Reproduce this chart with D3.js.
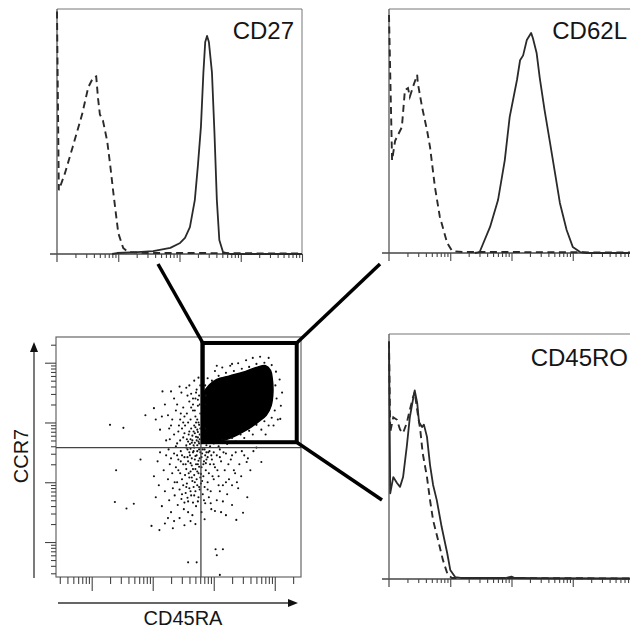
<!DOCTYPE html>
<html><head><meta charset="utf-8">
<script src="https://cdn.jsdelivr.net/npm/d3@7"></script>
<style>html,body{margin:0;padding:0;background:#fff}svg{display:block}</style>
</head><body><svg id="c" width="630" height="629"></svg>
<script>
// ---------- DATA (intensities as log10 exponents, histogram counts as % of max) ----------
const histLabels = ["CD27", "CD62L", "CD45RO"];
const axisLabelX = "CD45RA";
const axisLabelY = "CCR7";

const cd27Stained = [[1.9,0],[1.98,0.4],[2.31,0.8],[2.57,1.2],[2.85,2.5],[3.01,4.5],[3.09,6.6],[3.17,11],[3.25,22],[3.30,36],[3.35,52],[3.39,74],[3.42,86.5],[3.45,89],[3.48,86.5],[3.53,74],[3.57,50],[3.61,22],[3.65,5.7],[3.71,0.8],[3.83,0],[5,0]];
const cd27Isotype = [[1.0,99],[1.03,26],[1.13,33],[1.26,44],[1.41,57],[1.51,68],[1.59,72],[1.64,72.5],[1.67,63.5],[1.70,57],[1.75,54.5],[1.82,46],[1.87,36],[1.92,25],[2.0,8.6],[2.08,2.5],[2.16,0.8],[2.5,0.4],[3.3,0.4],[4.0,0.3],[5,0.2]];

const cd62lStained = [[2.4,0],[2.48,0.4],[2.65,10.7],[2.78,21.7],[2.89,38],[2.97,55.7],[3.09,71],[3.14,79],[3.19,81],[3.25,87.3],[3.32,90.2],[3.35,88],[3.41,82],[3.46,72],[3.54,58.6],[3.63,45],[3.71,32.8],[3.79,20.5],[3.90,9.4],[4.0,2.5],[4.12,0.4],[4.23,0],[5,0]];
const cd62lIsotype = [[1.0,97.5],[1.05,38],[1.10,46],[1.21,51.6],[1.26,66.8],[1.31,67.6],[1.34,64],[1.39,68],[1.46,73],[1.47,69.7],[1.54,59.8],[1.62,50.4],[1.67,43.4],[1.75,27],[1.83,14.8],[1.95,4.1],[2.03,0.8],[2.2,0.4],[3.0,0.4],[4.0,0.3],[5,0.2]];

const cd45roStained = [[1.0,96.7],[1.02,35],[1.07,41.6],[1.13,39.2],[1.18,37.6],[1.23,41.6],[1.29,54],[1.34,66],[1.39,73],[1.42,77],[1.46,72],[1.49,64],[1.54,62],[1.57,63],[1.62,58],[1.67,46.5],[1.72,38.4],[1.78,32.2],[1.86,21.2],[1.95,10.6],[2.0,3.7],[2.08,0.8],[2.2,0.4],[2.9,0.4],[3.0,1.0],[3.05,0.4],[3.5,0.3],[5,0.2]];
const cd45roIsotype = [[1.0,97],[1.02,60],[1.07,66],[1.13,65],[1.18,61],[1.23,59.6],[1.29,63.7],[1.34,69],[1.39,74],[1.42,76.3],[1.46,69],[1.51,61],[1.55,51.4],[1.62,41.6],[1.67,32.2],[1.72,24],[1.8,16],[1.88,7.8],[1.96,1.6],[2.03,0.4],[3.0,0.4],[5,0.2]];

// scatter: CD45RA (x) vs CCR7 (y), log10 exponents
const quadrant = {x: 3.79, y: 3.58};
const gate = {x0: 3.82, x1: 5.36, y0: 3.67, y1: 5.33};
const denseCore = [[3.83,4.48],[3.93,4.63],[4.05,4.72],[4.26,4.78],[4.48,4.84],[4.70,4.92],[4.85,4.95],[4.93,4.87],[4.96,4.72],[4.97,4.51],[4.94,4.28],[4.86,4.12],[4.73,4.01],[4.58,3.9],[4.42,3.81],[4.25,3.73],[4.05,3.67],[3.87,3.66],[3.83,3.78],[3.82,4.09],[3.82,4.35]];
const scatterPoints = [
[2.30,3.96],[2.52,3.91],[2.40,3.20],[2.38,2.67],[2.57,2.56],[2.69,2.64],[2.80,3.38],[2.98,2.27],[3.58,1.66],[3.72,1.66],[4.03,1.88],[4.15,1.88],[4.05,1.78],[4.10,1.45],[3.16,4.52],[3.02,4.24],[2.88,4.12],[4.54,3.34],[4.78,3.34],[5.09,4.06],[4.37,2.37],[4.48,2.49],[3.20,2.31],[3.11,2.20],[3.33,2.23],
[3.05,4.05],[3.12,3.88],[3.2,4.3],[3.25,4.12],[3.28,3.72],[3.3,3.95],[3.35,4.4],[3.38,4.2],[3.4,3.65],[3.42,3.85],[3.45,4.05],[3.47,4.5],[3.5,3.75],[3.5,4.25],[3.53,3.95],[3.55,4.58],[3.56,4.15],[3.58,3.68],[3.6,3.85],[3.6,4.35],[3.62,4.05],[3.63,4.48],[3.65,3.78],[3.66,4.2],[3.67,3.62],[3.68,3.95],[3.7,4.4],[3.7,4.1],[3.72,3.7],[3.72,4.55],[3.73,3.88],[3.74,4.28],[3.75,4.0],[3.76,3.65],[3.76,4.45],[3.77,3.8],[3.78,4.15],[3.78,4.62],[3.62,3.72],[3.55,3.62],[3.45,3.7],[3.35,3.8],[3.48,3.9],[3.58,4.0],[3.66,4.3],[3.69,3.82],[3.74,3.75],[3.71,4.0],[3.64,3.66],[3.52,4.1],[3.4,4.3],[3.22,3.7],[3.15,4.1],[3.3,4.52],[3.6,4.62],[3.68,4.7],[3.75,4.75],[3.44,4.6],
[3.02,3.1],[3.05,2.75],[3.08,3.35],[3.1,2.95],[3.12,3.5],[3.15,2.6],[3.18,3.2],[3.2,2.85],[3.22,3.45],[3.25,3.05],[3.27,2.7],[3.28,3.3],[3.3,2.5],[3.32,3.15],[3.33,2.9],[3.35,3.48],[3.36,2.78],[3.38,3.25],[3.4,3.0],[3.41,2.62],[3.42,3.38],[3.44,2.88],[3.45,3.15],[3.46,3.52],[3.47,2.72],[3.48,3.05],[3.5,3.3],[3.5,2.95],[3.51,2.55],[3.52,3.42],[3.53,3.12],[3.54,2.82],[3.55,3.22],[3.56,2.98],[3.57,3.55],[3.58,3.35],[3.58,2.68],[3.6,3.08],[3.6,2.9],[3.61,3.45],[3.62,3.18],[3.63,2.78],[3.64,3.28],[3.65,3.02],[3.65,2.45],[3.66,3.5],[3.67,2.92],[3.68,3.12],[3.69,3.38],[3.7,2.85],[3.7,3.22],[3.71,2.6],[3.72,3.05],[3.72,3.45],[3.73,2.95],[3.74,3.3],[3.75,2.75],[3.75,3.15],[3.76,3.55],[3.77,2.88],[3.77,3.4],[3.78,3.08],[3.79,2.98],[3.8,3.25],[3.8,2.5],[3.81,3.48],[3.82,2.8],[3.83,3.1],[3.84,3.35],[3.85,2.92],[3.86,2.65],[3.87,3.2],[3.88,3.5],[3.9,3.0],[3.92,2.75],[3.94,3.3],[3.96,2.55],[3.98,3.1],[3.55,3.58],[3.48,3.45],[3.62,3.56],[3.68,3.58],[3.42,3.2],[3.36,3.0],[3.58,2.5],[3.44,2.4],[3.62,2.35],[3.52,2.28],[3.7,2.3],[3.85,2.38],[3.35,2.35],[3.25,2.4],
[3.85,3.55],[3.9,3.42],[3.93,3.52],[3.97,3.38],[4.0,3.5],[4.02,3.25],[4.05,3.45],[4.08,3.1],[4.1,3.55],[4.12,3.35],[4.15,2.95],[4.18,3.2],[4.2,3.48],[4.22,2.8],[4.25,3.05],[4.28,3.38],[4.3,2.62],[4.33,3.2],[4.36,3.5],[4.4,2.9],[4.42,3.3],[4.45,3.1],[4.5,3.45],[4.55,2.75],[4.6,3.2],[4.65,3.52],[4.05,2.7],[4.12,2.5],[4.2,2.45],[3.95,2.85],[4.3,2.95],[4.38,3.0],[4.0,3.05],[4.1,2.85],
[3.56,3.72],[3.59,3.8],[3.61,3.64],[3.63,3.9],[3.65,3.7],[3.67,3.85],[3.69,3.66],[3.7,3.92],[3.71,3.76],[3.73,3.62],[3.74,3.84],[3.75,3.68],[3.77,3.72],[3.78,3.9],[3.76,3.96],[3.73,4.05],[3.69,4.2],[3.77,4.3],[3.74,4.38],[3.71,4.5],[3.66,4.4],[3.63,4.25],[3.57,4.45],[3.52,3.82],[3.5,4.0],[3.46,4.15],[3.43,3.95],[3.38,3.6],[3.32,4.05],[3.27,3.9],
[3.6,3.5],[3.64,3.4],[3.67,3.52],[3.7,3.44],[3.73,3.52],[3.75,3.36],[3.78,3.5],[3.8,3.42],[3.82,3.55],[3.83,3.3],[3.86,3.45],[3.88,3.38],[3.91,3.5],[3.76,3.26],[3.71,3.3],[3.66,3.22],[3.62,3.32],[3.57,3.42],[3.54,3.3],[3.59,3.15],[3.64,3.08],[3.69,3.0],[3.73,3.18],[3.79,3.14],[3.81,3.02],[3.76,2.92],[3.68,2.78],[3.62,2.85],[3.55,2.92],[3.48,2.8],[3.52,2.66],[3.57,2.74],[3.66,2.66],[3.74,2.68],[3.84,2.7],[3.9,2.88],[3.46,3.35],[3.4,3.45],[3.3,3.4],[3.26,3.55],
[3.86,4.62],[3.9,4.74],[3.97,4.7],[4.02,4.86],[4.08,4.78],[4.14,4.92],[4.2,4.83],[4.27,4.95],[4.33,4.86],[4.4,4.99],[4.46,4.9],[4.53,5.04],[4.58,4.93],[4.64,5.08],[4.7,4.98],[4.76,5.1],[4.83,5.0],[4.9,5.08],[4.95,4.96],
[5.02,4.85],[5.08,4.72],[5.01,4.62],[5.12,4.5],[5.03,4.4],[5.1,4.28],[5.0,4.2],[5.05,4.05],[4.95,4.08],
[4.9,3.95],[4.83,4.02],[4.78,3.88],[4.7,3.96],[4.64,3.8],[4.58,3.86],[4.5,3.74],[4.44,3.8],[4.36,3.68],[4.3,3.74],[4.22,3.64],[4.14,3.7],[4.08,3.6],[4.0,3.65],[3.94,3.6],[3.88,3.62],
[3.84,3.72],[3.86,3.9],[3.84,4.1],[3.85,4.3],[3.87,4.45],[4.6,3.66],[4.85,3.8],[4.98,3.95],[4.3,4.98],[4.05,4.95],
[3.87,3.32],[3.92,3.15],[3.96,3.45],[4.0,3.3],[4.06,3.2],[4.1,3.42],[4.16,3.5],[4.24,3.3],[4.3,3.45],[4.46,3.52],[4.56,3.4],[4.7,3.58],[4.35,3.15],[4.2,3.0],[4.08,2.95],[3.95,2.65],[4.02,2.52],[4.15,2.68]
];

// ---------- DRAWING ----------
const svg = d3.select("#c");
svg.append("rect").attr("width",630).attr("height",629).attr("fill","#fff");
const P = v => Math.pow(10, v);
const FONT = "'Liberation Sans', Arial, sans-serif";

function logTicks(scale) {
  const all = scale.ticks();
  const major = all.filter(t => Math.abs(Math.log10(t) - Math.round(Math.log10(t))) < 1e-9);
  const minor = all.filter(t => !major.includes(t));
  return {major, minor};
}

function histogram(cfg) {
  const g = svg.append("g");
  const x = d3.scaleLog().domain([P(1), P(5)]).range([cfg.left, cfg.left + 245]);
  const y = d3.scaleLinear().domain([0, 100]).range([cfg.bottom, cfg.top]);
  g.append("line").attr("x1", cfg.left).attr("x2", cfg.left + 245).attr("y1", cfg.top).attr("y2", cfg.top)
    .attr("stroke", "#777").attr("stroke-width", 1);
  g.append("line").attr("x1", cfg.left + 245).attr("x2", cfg.left + 245).attr("y1", cfg.top).attr("y2", cfg.bottom)
    .attr("stroke", "#777").attr("stroke-width", 1);
  const t = logTicks(x);
  const ax1 = g.append("g").attr("transform", `translate(0,${cfg.bottom})`)
    .call(d3.axisBottom(x).tickValues(t.minor).tickSize(4).tickFormat(""));
  const ax2 = g.append("g").attr("transform", `translate(0,${cfg.bottom})`)
    .call(d3.axisBottom(x).tickValues(t.major.filter(v => v > P(1))).tickSize(8).tickFormat(""));
  [ax1, ax2].forEach(a => { a.select(".domain").remove(); a.selectAll("line").attr("stroke", "#444").attr("stroke-width", 1.1); });
  g.append("line").attr("x1", cfg.left - 7).attr("x2", cfg.left + 245).attr("y1", cfg.bottom).attr("y2", cfg.bottom)
    .attr("stroke", "#444").attr("stroke-width", 1.5);
  g.append("line").attr("x1", cfg.left).attr("x2", cfg.left).attr("y1", cfg.top).attr("y2", cfg.bottom + 8)
    .attr("stroke", "#555").attr("stroke-width", 1.3);
  const line = d3.line().x(d => x(P(d[0]))).y(d => y(d[1]));
  g.append("path").attr("d", line(cfg.iso)).attr("fill", "none").attr("stroke", "#2a2a2a")
    .attr("stroke-width", 1.9).attr("stroke-dasharray", "7,4.5");
  g.append("path").attr("d", line(cfg.stain)).attr("fill", "none").attr("stroke", "#2a2a2a")
    .attr("stroke-width", 1.8).attr("stroke-linejoin", "round");
  g.append("text").attr("x", cfg.labelX).attr("y", cfg.labelY).attr("text-anchor", "end")
    .attr("font-family", FONT).attr("font-size", 24).attr("fill", "#151515").text(cfg.label);
}

histogram({left: 57, top: 9, bottom: 254, stain: cd27Stained, iso: cd27Isotype, label: histLabels[0], labelX: 294, labelY: 39});
histogram({left: 389, top: 9, bottom: 253, stain: cd62lStained, iso: cd62lIsotype, label: histLabels[1], labelX: 627, labelY: 39});
histogram({left: 389, top: 334, bottom: 579, stain: cd45roStained, iso: cd45roIsotype, label: histLabels[2], labelX: 628, labelY: 366});

// ---------- scatter ----------
const sx = d3.scaleLog().domain([P(1.415), P(5.43)]).range([56, 301]);
const sy = d3.scaleLog().domain([P(1.415), P(5.43)]).range([577, 337]);
const sg = svg.append("g");
sg.append("rect").attr("x", 56).attr("y", 337).attr("width", 245).attr("height", 240)
  .attr("fill", "none").attr("stroke", "#666").attr("stroke-width", 1.2);

const tx = logTicks(sx), ty = logTicks(sy);
const axes = [
  sg.append("g").attr("transform", "translate(0,577)").call(d3.axisBottom(sx).tickValues(tx.minor).tickSize(7).tickFormat("")),
  sg.append("g").attr("transform", "translate(0,577)").call(d3.axisBottom(sx).tickValues(tx.major).tickSize(14).tickFormat("")),
  sg.append("g").attr("transform", "translate(56,0)").call(d3.axisLeft(sy).tickValues(ty.minor).tickSize(5).tickFormat("")),
  sg.append("g").attr("transform", "translate(56,0)").call(d3.axisLeft(sy).tickValues(ty.major).tickSize(11).tickFormat(""))
];
axes.forEach(a => { a.select(".domain").remove(); a.selectAll("line").attr("stroke", "#444").attr("stroke-width", 1.1); });

sg.append("path")
  .attr("d", d3.line().x(d => sx(P(d[0]))).y(d => sy(P(d[1]))).curve(d3.curveCatmullRomClosed)(denseCore))
  .attr("fill", "#000").attr("stroke", "#000").attr("stroke-width", 1.5);
sg.selectAll("circle.pt").data(scatterPoints).join("circle").attr("class", "pt")
  .attr("cx", d => sx(P(d[0]))).attr("cy", d => sy(P(d[1]))).attr("r", 1.05).attr("fill", "#111");

sg.append("line").attr("x1", sx(P(quadrant.x))).attr("x2", sx(P(quadrant.x))).attr("y1", 337).attr("y2", 577)
  .attr("stroke", "#444").attr("stroke-width", 1.3);
sg.append("line").attr("x1", 56).attr("x2", 301).attr("y1", sy(P(quadrant.y))).attr("y2", sy(P(quadrant.y)))
  .attr("stroke", "#444").attr("stroke-width", 1.3);

const gx0 = sx(P(gate.x0)), gx1 = sx(P(gate.x1)), gy0 = sy(P(gate.y1)), gy1 = sy(P(gate.y0));
sg.append("rect").attr("x", gx0).attr("y", gy0).attr("width", gx1 - gx0).attr("height", gy1 - gy0)
  .attr("fill", "none").attr("stroke", "#000").attr("stroke-width", 4);

const conn = [
  [[gx0, gy0], [158, 264]],
  [[gx1, gy0], [380, 264]],
  [[gx1, gy1], [382, 500]]
];
conn.forEach(c => svg.append("line").attr("x1", c[0][0]).attr("y1", c[0][1]).attr("x2", c[1][0]).attr("y2", c[1][1])
  .attr("stroke", "#000").attr("stroke-width", 3.5));

svg.append("line").attr("x1", 34).attr("x2", 34).attr("y1", 578).attr("y2", 350).attr("stroke", "#333").attr("stroke-width", 1.3);
svg.append("path").attr("d", "M34,342 L30,352 L38,352 Z").attr("fill", "#111");
svg.append("line").attr("x1", 58).attr("x2", 290).attr("y1", 603).attr("y2", 603).attr("stroke", "#333").attr("stroke-width", 1.3);
svg.append("path").attr("d", "M298,603 L288,599 L288,607 Z").attr("fill", "#111");

svg.append("text").attr("x", 183).attr("y", 625).attr("text-anchor", "middle")
  .attr("font-family", FONT).attr("font-size", 20).attr("fill", "#151515").text(axisLabelX);
svg.append("text").attr("transform", "translate(28,456) rotate(-90)").attr("text-anchor", "middle")
  .attr("font-family", FONT).attr("font-size", 20).attr("fill", "#151515").text(axisLabelY);
</script></body></html>
